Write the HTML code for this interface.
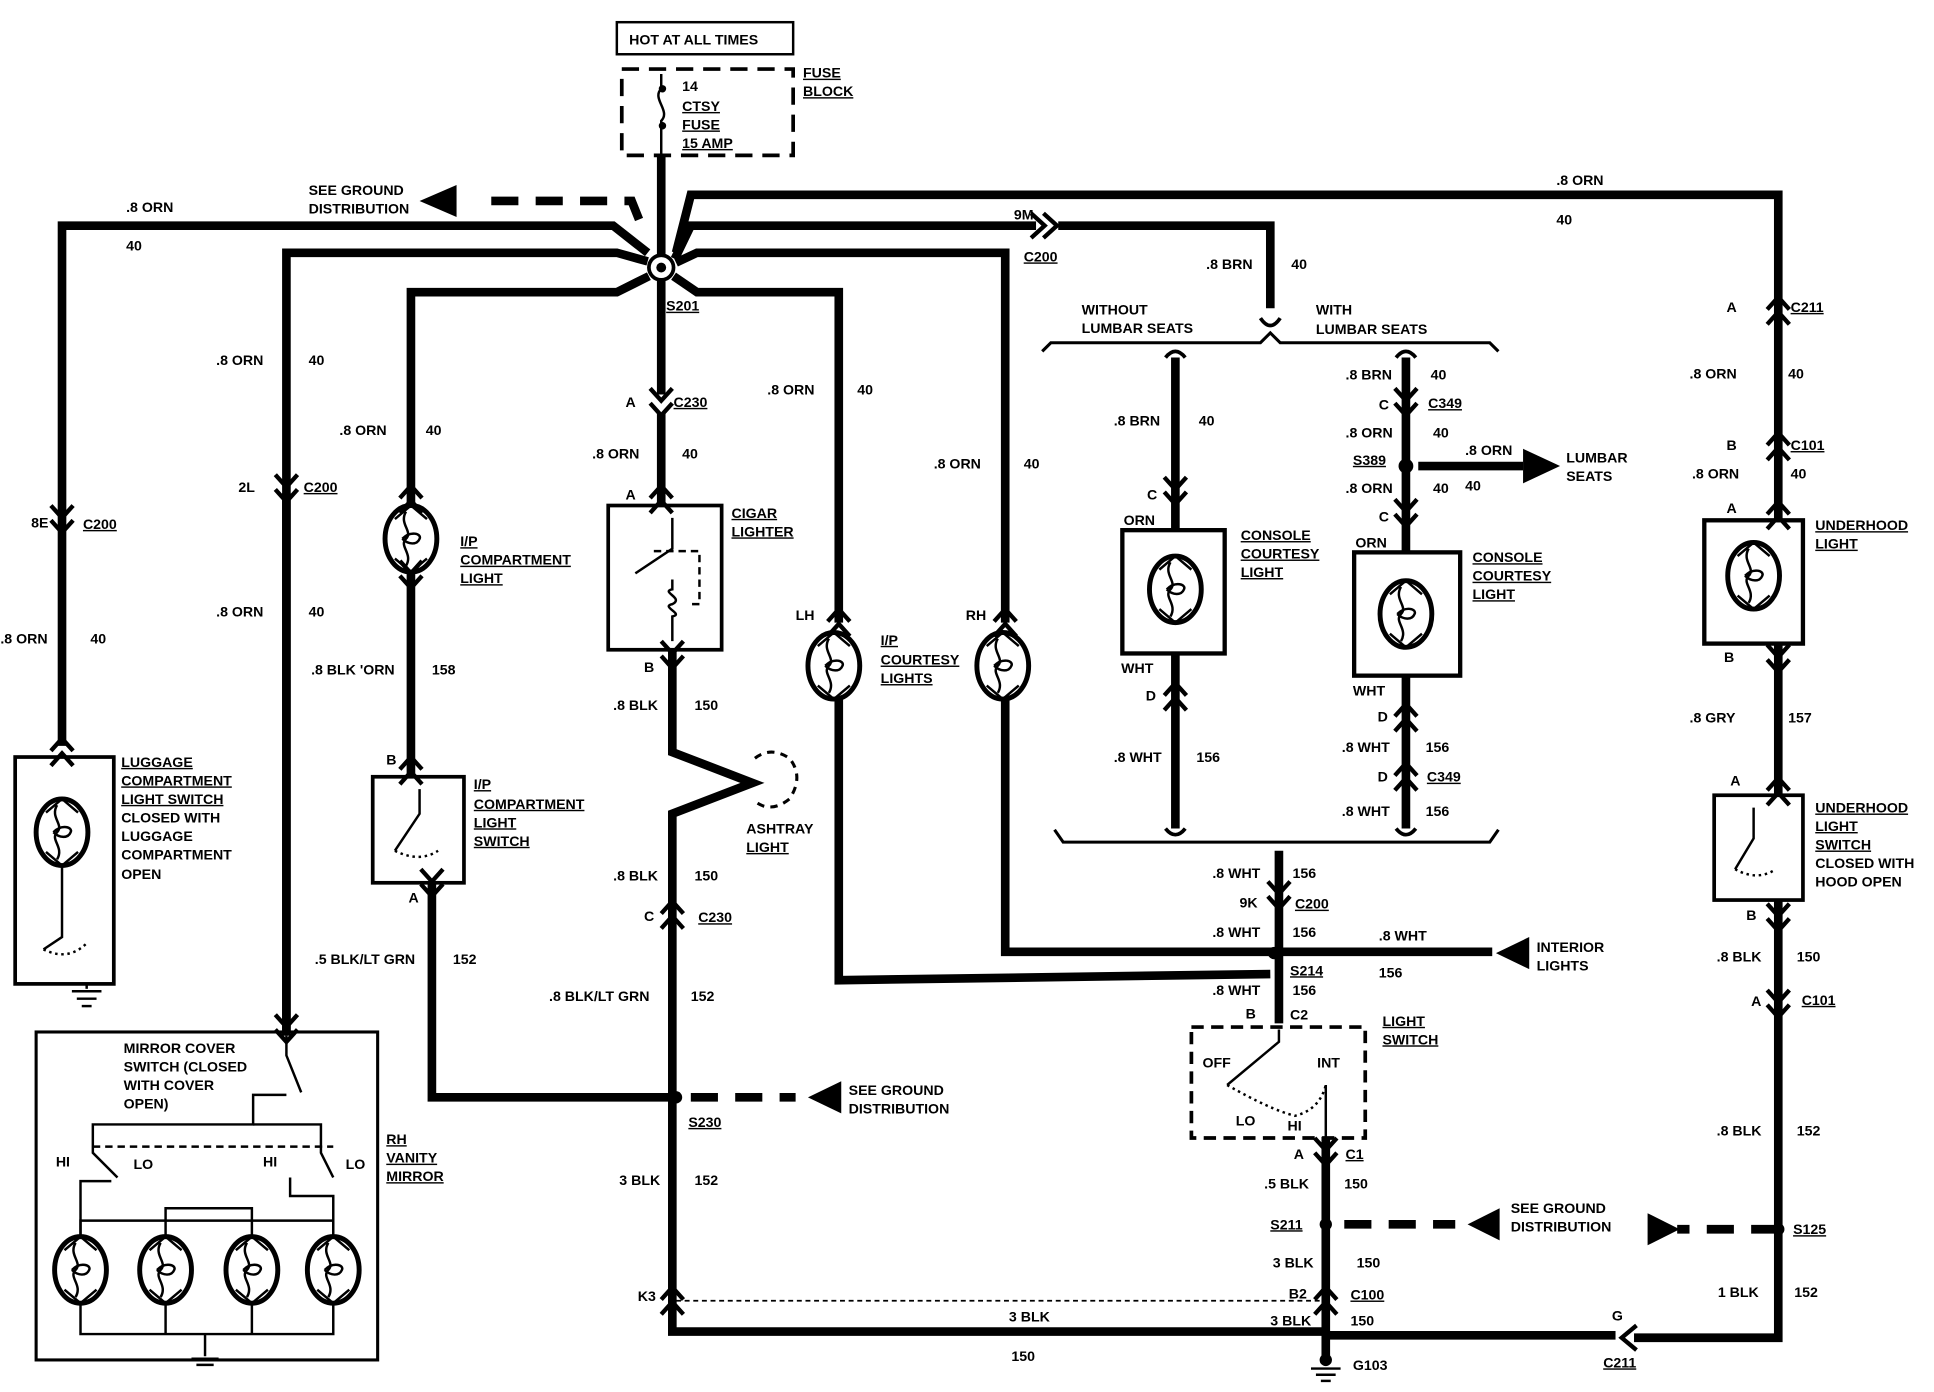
<!DOCTYPE html>
<html><head><meta charset="utf-8"><style>
html,body{margin:0;padding:0;background:#fff}
svg{display:block}
text{font-family:"Liberation Sans",sans-serif;font-weight:bold;font-size:11.5px;fill:#000}
.u{text-decoration:underline}
</style></head><body>
<svg width="1934" height="1392" viewBox="0 0 1568 1129" xmlns="http://www.w3.org/2000/svg">
<defs>
<g id="cd"><polyline points="-9,-15 0,-5 9,-15" fill="none" stroke="#000" stroke-width="3.5"/><polyline points="-9,-3 0,7 9,-3" fill="none" stroke="#000" stroke-width="3.5"/></g>
<g id="cu"><polyline points="-9,-1 0,-11 9,-1" fill="none" stroke="#000" stroke-width="3.5"/><polyline points="-9,11 0,1 9,11" fill="none" stroke="#000" stroke-width="3.5"/></g>
<g id="lamp"><ellipse cx="0" cy="0" rx="21" ry="27" fill="#fff" stroke="#000" stroke-width="4"/><path d="M-4,-22 C-10,-12 2,-6 -4,0 C-10,6 2,12 -4,22 M-7,0 C0,-7 9,-4 7,0 C5,5 -2,5 -7,0 M-13,-16 L0,-27 L13,-16 M-13,16 L0,27 L13,16" fill="none" stroke="#000" stroke-width="2"/></g>
</defs>
<g fill="none" stroke="#000" stroke-width="7">
<line x1="536" y1="126" x2="536" y2="210"/>
<polyline points="50,605 50,183 497,183 525,205"/>
<polyline points="232,840 232,205 500,205 525,212"/>
<polyline points="333,410 333,237 500,237 526,224"/>
<polyline points="680,505 680,237 565,237 546,224"/>
<polyline points="548,205 560,158 1442,158 1442,422"/>
<polyline points="547,210 560,183 840,183"/>
<polyline points="858,183 1030,183 1030,250"/>
<polyline points="548,213 565,205 815,205 815,505"/>
<line x1="536" y1="225" x2="536" y2="320"/>
<line x1="536" y1="335" x2="536" y2="410"/>
<line x1="232" y1="400" x2="232" y2="840"/>
<line x1="333" y1="462" x2="333" y2="630"/>
<polyline points="350,716 350,890 548,890"/>
<polyline points="545,527 545,610 610,635 545,660 545,1080 1075,1080"/>
<polyline points="680,565 680,795 1030,790"/>
<polyline points="815,565 815,772 1210,772"/>
<line x1="1037" y1="690" x2="1037" y2="830"/>
<line x1="1075" y1="922" x2="1075" y2="1100"/>
<polyline points="1075,1083 1310,1083"/>
<polyline points="1442,522 1442,645"/>
<polyline points="1442,730 1442,1085 1325,1085"/>
<line x1="953" y1="290" x2="953" y2="430"/>
<line x1="953" y1="530" x2="953" y2="672"/>
<line x1="1140" y1="290" x2="1140" y2="448"/>
<line x1="1140" y1="548" x2="1140" y2="672"/>
<line x1="1150" y1="378" x2="1235" y2="378"/>
</g>
<g fill="none" stroke="#000" stroke-width="7" stroke-dasharray="22,14">
<polyline points="518,178 512,163 395,163"/>
<line x1="560" y1="890" x2="645" y2="890"/>
<line x1="1090" y1="993" x2="1180" y2="993"/>
<line x1="1442" y1="997" x2="1360" y2="997"/>
</g>
<line x1="548" y1="1055" x2="1075" y2="1055" stroke="#000" stroke-width="1.5" stroke-dasharray="4,3"/>
<polygon points="340,163 370,150 370,176"/>
<polygon points="655,890 682,877 682,903"/>
<polygon points="1213,773 1240,760 1240,786"/>
<polygon points="1190,993 1216,980 1216,1006"/>
<polygon points="1362,997 1336,984 1336,1010"/>
<polygon points="1265,378 1235,364 1235,392"/>
<polyline points="1327,1075 1315,1085 1327,1095" fill="none" stroke="#000" stroke-width="3.5"/>
<polyline points="846,173 857,183 846,193" fill="none" stroke="#000" stroke-width="3.5"/>
<polyline points="836,173 847,183 836,193" fill="none" stroke="#000" stroke-width="3.5"/>
<circle cx="536" cy="217" r="10" fill="#fff" stroke="#000" stroke-width="3"/><circle cx="536" cy="217" r="4"/>
<circle cx="548" cy="890" r="5"/><circle cx="1033" cy="773" r="5"/><circle cx="1140" cy="378" r="6"/>
<circle cx="1075" cy="993" r="5"/><circle cx="1442" cy="997" r="5"/>
<circle cx="1075" cy="1103" r="5"/>
<g stroke="#000" stroke-width="2"><line x1="1063" y1="1110" x2="1087" y2="1110"/><line x1="1067" y1="1115" x2="1083" y2="1115"/><line x1="1071" y1="1120" x2="1079" y2="1120"/></g>
<rect x="500" y="18" width="143" height="26" fill="none" stroke="#000" stroke-width="2"/>
<rect x="504" y="56" width="139" height="70" fill="none" stroke="#000" stroke-width="3" stroke-dasharray="14,8"/>
<path d="M536,60 L536,72 C528,80 544,90 536,98 L536,126" fill="none" stroke="#000" stroke-width="2"/>
<circle cx="537" cy="72" r="3"/><circle cx="537" cy="102" r="3"/>
<rect x="12" y="614" width="80" height="184" fill="none" stroke="#000" stroke-width="3"/>
<rect x="29" y="837" width="277" height="266" fill="none" stroke="#000" stroke-width="2.5"/>
<rect x="302" y="630" width="74" height="86" fill="none" stroke="#000" stroke-width="3"/>
<rect x="493" y="410" width="92" height="117" fill="none" stroke="#000" stroke-width="3"/>
<rect x="910" y="430" width="83" height="100" fill="none" stroke="#000" stroke-width="3.5"/>
<rect x="1098" y="448" width="86" height="100" fill="none" stroke="#000" stroke-width="3.5"/>
<rect x="1382" y="422" width="80" height="100" fill="none" stroke="#000" stroke-width="3.5"/>
<rect x="1390" y="645" width="72" height="85" fill="none" stroke="#000" stroke-width="3"/>
<rect x="966" y="833" width="141" height="90" fill="none" stroke="#000" stroke-width="3" stroke-dasharray="10,6"/>
<use href="#lamp" x="50" y="675"/><use href="#lamp" x="333" y="437"/><use href="#lamp" x="676" y="540"/>
<use href="#lamp" x="813" y="540"/><use href="#lamp" x="953" y="478"/><use href="#lamp" x="1140" y="498"/>
<use href="#lamp" x="1422" y="467"/>
<use href="#lamp" x="65" y="1030"/><use href="#lamp" x="134" y="1030"/><use href="#lamp" x="204" y="1030"/><use href="#lamp" x="270" y="1030"/>
<g fill="none" stroke="#000" stroke-width="2">
<polyline points="65,1003 65,990 270,990 270,1003"/><polyline points="134,1003 134,990"/><polyline points="204,1003 204,980 134,980 134,990"/>
<polyline points="65,1057 65,1082 270,1082 270,1057"/><line x1="134" y1="1057" x2="134" y2="1082"/><line x1="204" y1="1057" x2="204" y2="1082"/>
<line x1="166" y1="1082" x2="166" y2="1100"/><line x1="155" y1="1102" x2="177" y2="1102"/><line x1="159" y1="1107" x2="173" y2="1107"/>
<line x1="70" y1="798" x2="70" y2="802"/><line x1="58" y1="804" x2="82" y2="804"/><line x1="62" y1="810" x2="78" y2="810"/><line x1="66" y1="816" x2="74" y2="816"/>
<polyline points="232,840 232,856 244,886"/><polyline points="232,888 205,888 205,912 75,912 75,935 95,955"/>
<polyline points="205,912 260,912 260,935 270,955"/>
<line x1="75" y1="930" x2="270" y2="930" stroke-dasharray="6,4"/>
<polyline points="65,1003 65,958 90,958"/><polyline points="270,1003 270,970 235,970 235,955"/>
<polyline points="50,702 50,760 35,770"/><path d="M35,770 Q55,780 70,765" stroke-dasharray="2,3"/>
<polyline points="340,640 340,660 320,690"/><path d="M320,690 Q340,700 355,690" stroke-dasharray="2,3"/>
<polyline points="545,420 545,445 515,465"/><polyline points="530,447 567,447 567,490 560,490" stroke-dasharray="6,4"/>
<path d="M545,470 L545,478 C535,480 555,485 545,490 C535,492 555,498 545,500 L545,520"/>
<polyline points="1422,655 1422,680 1407,705"/><path d="M1407,705 Q1425,715 1440,705" stroke-dasharray="2,3"/>
<polyline points="1037,835 1037,845 995,880"/><path d="M995,880 Q1030,900 1050,905 Q1070,900 1075,880" stroke-dasharray="2,3"/>
<path d="M1075,880 L1075,922"/>
<path d="M612,615 Q625,605 640,615 Q652,630 640,648 Q625,660 612,650" stroke-dasharray="6,5" stroke-width="2.5"/>
<path d="M845,285 L852,278 L1022,278 L1030,270 L1038,278 L1208,278 L1215,285" stroke-width="2.5"/>
<path d="M855,673 L862,683 L1208,683 L1215,673" stroke-width="2.5"/>
<path d="M1022,258 Q1030,270 1038,258" stroke-width="3"/>
<path d="M945,290 Q953,280 961,290 M1132,290 Q1140,280 1148,290 M945,672 Q953,682 961,672 M1132,672 Q1140,682 1148,672" stroke-width="3"/>
</g>
<use href="#cd" x="50" y="425"/><use href="#cd" x="232" y="400"/><use href="#cd" x="536" y="330"/>
<use href="#cu" x="536" y="405"/><use href="#cu" x="333" y="405"/><use href="#cd" x="333" y="470"/>
<use href="#cu" x="333" y="625"/><use href="#cd" x="350" y="720"/>
<use href="#cd" x="545" y="535"/><use href="#cu" x="545" y="742"/>
<use href="#cu" x="680" y="505"/><use href="#cu" x="815" y="505"/>
<use href="#cd" x="953" y="402"/><use href="#cu" x="953" y="565"/>
<use href="#cd" x="1140" y="330"/><use href="#cd" x="1140" y="420"/><use href="#cu" x="1140" y="582"/><use href="#cu" x="1140" y="630"/>
<use href="#cd" x="1037" y="730"/><use href="#cd" x="1075" y="938"/><use href="#cu" x="1075" y="1055"/><use href="#cu" x="545" y="1055"/>
<use href="#cu" x="1442" y="252"/><use href="#cu" x="1442" y="362"/><use href="#cu" x="1442" y="418"/><use href="#cd" x="1442" y="538"/><use href="#cu" x="1442" y="642"/><use href="#cd" x="1442" y="748"/><use href="#cd" x="1442" y="818"/>
<use href="#cu" x="50" y="610"/><use href="#cd" x="232" y="838"/>
<text x="510" y="36">HOT AT ALL TIMES</text>
<text x="553" y="74">14</text><text x="553" y="90" class="u">CTSY</text><text x="553" y="105" class="u">FUSE</text><text x="553" y="120" class="u">15 AMP</text>
<text x="651" y="63" class="u">FUSE</text><text x="651" y="78" class="u">BLOCK</text>
<text x="250" y="158">SEE GROUND</text><text x="250" y="173">DISTRIBUTION</text>
<text x="102" y="172">.8 ORN</text><text x="102" y="203">40</text>
<text x="1262" y="150">.8 ORN</text><text x="1262" y="182">40</text>
<text x="822" y="178">9M</text><text x="830" y="212" class="u">C200</text>
<text x="978" y="218">.8 BRN</text><text x="1047" y="218">40</text>
<text x="540" y="252" class="u">S201</text>
<text x="175" y="296">.8 ORN</text><text x="250" y="296">40</text>
<text x="275" y="353">.8 ORN</text><text x="345" y="353">40</text>
<text x="622" y="320">.8 ORN</text><text x="695" y="320">40</text>
<text x="507" y="330">A</text><text x="546" y="330" class="u">C230</text>
<text x="480" y="372">.8 ORN</text><text x="553" y="372">40</text>
<text x="757" y="380">.8 ORN</text><text x="830" y="380">40</text>
<text x="193" y="399">2L</text><text x="246" y="399" class="u">C200</text>
<text x="25" y="428">8E</text><text x="67" y="429" class="u">C200</text>
<text x="507" y="405">A</text>
<text x="593" y="420" class="u">CIGAR</text><text x="593" y="435" class="u">LIGHTER</text>
<text x="373" y="443" class="u">I/P</text>
<text x="373" y="458" class="u">COMPARTMENT</text><text x="373" y="473" class="u">LIGHT</text>
<text x="175" y="500">.8 ORN</text><text x="250" y="500">40</text>
<text x="0" y="522">.8 ORN</text><text x="73" y="522">40</text>
<text x="252" y="547">.8 BLK 'ORN</text><text x="350" y="547">158</text>
<text x="522" y="545">B</text>
<text x="645" y="503">LH</text><text x="783" y="503">RH</text>
<text x="714" y="523" class="u">I/P</text><text x="714" y="539" class="u">COURTESY</text><text x="714" y="554" class="u">LIGHTS</text>
<text x="497" y="576">.8 BLK</text><text x="563" y="576">150</text>
<text x="98" y="622" class="u">LUGGAGE</text><text x="98" y="637" class="u">COMPARTMENT</text><text x="98" y="652" class="u">LIGHT SWITCH</text><text x="98" y="667">CLOSED WITH</text><text x="98" y="682">LUGGAGE</text><text x="98" y="697">COMPARTMENT</text><text x="98" y="713">OPEN</text>
<text x="313" y="620">B</text>
<text x="384" y="640" class="u">I/P</text><text x="384" y="656" class="u">COMPARTMENT</text><text x="384" y="671" class="u">LIGHT</text><text x="384" y="686" class="u">SWITCH</text>
<text x="605" y="676">ASHTRAY</text><text x="605" y="691" class="u">LIGHT</text>
<text x="497" y="714">.8 BLK</text><text x="563" y="714">150</text>
<text x="331" y="732">A</text><text x="522" y="747">C</text><text x="566" y="748" class="u">C230</text>
<text x="255" y="782">.5 BLK/LT GRN</text><text x="367" y="782">152</text>
<text x="445" y="812">.8 BLK/LT GRN</text><text x="560" y="812">152</text>
<text x="100" y="854">MIRROR COVER</text><text x="100" y="869">SWITCH (CLOSED</text><text x="100" y="884">WITH COVER</text><text x="100" y="899">OPEN)</text>
<text x="313" y="928" class="u">RH</text><text x="313" y="943" class="u">VANITY</text><text x="313" y="958" class="u">MIRROR</text>
<text x="45" y="946">HI</text><text x="108" y="948">LO</text><text x="213" y="946">HI</text><text x="280" y="948">LO</text>
<text x="688" y="888">SEE GROUND</text><text x="688" y="903">DISTRIBUTION</text>
<text x="558" y="914" class="u">S230</text>
<text x="502" y="961">3 BLK</text><text x="563" y="961">152</text>
<text x="517" y="1055">K3</text>
<text x="818" y="1072">3 BLK</text><text x="820" y="1104">150</text>
<text x="877" y="255">WITHOUT</text><text x="877" y="270">LUMBAR SEATS</text>
<text x="1067" y="255">WITH</text><text x="1067" y="271">LUMBAR SEATS</text>
<text x="903" y="345">.8 BRN</text><text x="972" y="345">40</text>
<text x="1091" y="308">.8 BRN</text><text x="1160" y="308">40</text>
<text x="1118" y="332">C</text><text x="1158" y="331" class="u">C349</text>
<text x="1091" y="355">.8 ORN</text><text x="1162" y="355">40</text>
<text x="1097" y="377" class="u">S389</text><text x="1188" y="369">.8 ORN</text>
<text x="1270" y="375">LUMBAR</text><text x="1270" y="390">SEATS</text>
<text x="1091" y="400">.8 ORN</text><text x="1162" y="400">40</text><text x="1188" y="398">40</text>
<text x="930" y="405">C</text><text x="1118" y="423">C</text>
<text x="911" y="426">ORN</text><text x="1099" y="444">ORN</text>
<text x="1006" y="438" class="u">CONSOLE</text><text x="1006" y="453" class="u">COURTESY</text><text x="1006" y="468" class="u">LIGHT</text>
<text x="1194" y="456" class="u">CONSOLE</text><text x="1194" y="471" class="u">COURTESY</text><text x="1194" y="486" class="u">LIGHT</text>
<text x="909" y="546">WHT</text><text x="929" y="568">D</text>
<text x="1097" y="564">WHT</text><text x="1117" y="585">D</text>
<text x="903" y="618">.8 WHT</text><text x="970" y="618">156</text>
<text x="1088" y="610">.8 WHT</text><text x="1156" y="610">156</text>
<text x="1117" y="634">D</text><text x="1157" y="634" class="u">C349</text>
<text x="1088" y="662">.8 WHT</text><text x="1156" y="662">156</text>
<text x="983" y="712">.8 WHT</text><text x="1048" y="712">156</text>
<text x="1005" y="736">9K</text><text x="1050" y="737" class="u">C200</text>
<text x="983" y="760">.8 WHT</text><text x="1048" y="760">156</text>
<text x="1118" y="763">.8 WHT</text><text x="1118" y="793">156</text>
<text x="1246" y="772">INTERIOR</text><text x="1246" y="787">LIGHTS</text>
<text x="1046" y="791" class="u">S214</text>
<text x="983" y="807">.8 WHT</text><text x="1048" y="807">156</text>
<text x="1010" y="826">B</text><text x="1046" y="827">C2</text>
<text x="1121" y="832" class="u">LIGHT</text><text x="1121" y="847" class="u">SWITCH</text>
<text x="975" y="866">OFF</text><text x="1068" y="866">INT</text><text x="1002" y="913">LO</text><text x="1044" y="917">HI</text>
<text x="1049" y="940">A</text><text x="1091" y="940" class="u">C1</text>
<text x="1025" y="964">.5 BLK</text><text x="1090" y="964">150</text>
<text x="1030" y="997" class="u">S211</text>
<text x="1225" y="984">SEE GROUND</text><text x="1225" y="999">DISTRIBUTION</text>
<text x="1032" y="1028">3 BLK</text><text x="1100" y="1028">150</text>
<text x="1045" y="1053">B2</text><text x="1095" y="1054" class="u">C100</text>
<text x="1030" y="1075">3 BLK</text><text x="1095" y="1075">150</text>
<text x="1097" y="1111">G103</text>
<text x="1400" y="253">A</text><text x="1452" y="253" class="u">C211</text>
<text x="1370" y="307">.8 ORN</text><text x="1450" y="307">40</text>
<text x="1400" y="365">B</text><text x="1452" y="365" class="u">C101</text>
<text x="1372" y="388">.8 ORN</text><text x="1452" y="388">40</text>
<text x="1400" y="416">A</text>
<text x="1472" y="430" class="u">UNDERHOOD</text><text x="1472" y="445" class="u">LIGHT</text>
<text x="1398" y="537">B</text>
<text x="1370" y="586">.8 GRY</text><text x="1450" y="586">157</text>
<text x="1403" y="637">A</text>
<text x="1472" y="659" class="u">UNDERHOOD</text><text x="1472" y="674" class="u">LIGHT</text><text x="1472" y="689" class="u">SWITCH</text><text x="1472" y="704">CLOSED WITH</text><text x="1472" y="719">HOOD OPEN</text>
<text x="1416" y="746">B</text>
<text x="1392" y="780">.8 BLK</text><text x="1457" y="780">150</text>
<text x="1420" y="816">A</text><text x="1461" y="815" class="u">C101</text>
<text x="1392" y="921">.8 BLK</text><text x="1457" y="921">152</text>
<text x="1454" y="1001" class="u">S125</text>
<text x="1393" y="1052">1 BLK</text><text x="1455" y="1052">152</text>
<text x="1307" y="1071">G</text><text x="1300" y="1109" class="u">C211</text>
</svg>
</body></html>
